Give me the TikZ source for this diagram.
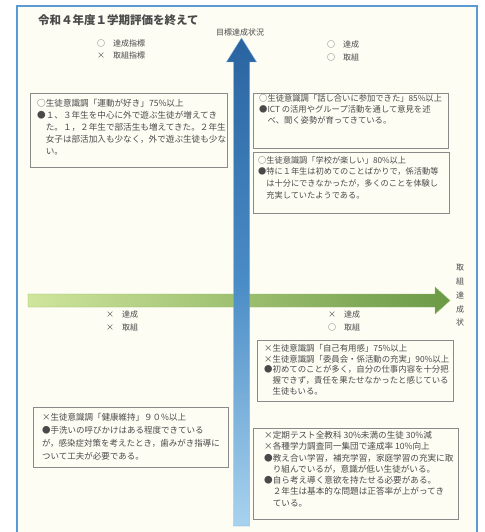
\documentclass[tikz,border=0pt]{standalone}
\usepackage{fontspec}
\setmainfont{Noto Sans CJK JP}
\definecolor{framecol}{HTML}{5B9BD5}
\definecolor{paper}{HTML}{FDFDF4}
\definecolor{ink}{HTML}{4A4A4A}
\definecolor{boxline}{HTML}{8A8A8A}
\definecolor{bluetop}{HTML}{2A64A0}
\definecolor{bluemid}{HTML}{4A8CC6}
\definecolor{bluebot}{HTML}{A8D3EE}
\definecolor{greenleft}{HTML}{CFE59C}
\definecolor{greenright}{HTML}{6B9A45}
\tikzset{
  boxrect/.style={draw=boxline, line width=0.8pt, fill=paper},
  boxtext/.style={anchor=north west, inner sep=0pt, align=left, text=ink},
  lab/.style={anchor=west, inner sep=0pt, text=ink, font=\fontsize{8}{10}\selectfont},
}
\begin{document}
\begin{tikzpicture}[x=1pt, y=-1pt]
\useasboundingbox (0,0) rectangle (484,532);
\fill[white] (0,0) rectangle (484,532);
\fill[paper] (17,6) rectangle (477,532);
\draw[framecol, line width=2pt] (17,540) -- (17,6) -- (477,6) -- (477,540);

% title
\node[anchor=west, inner sep=0pt, text=ink, font=\fontsize{11.5}{13}\selectfont\bfseries] (title) at (38,20) {令和４年度１学期評価を終えて};

% horizontal arrow (green)
\shade[left color=greenleft, right color=greenright, draw=greenright!60!greenleft, line width=0.4pt]
  (28,294) -- (435,294) -- (435,287) -- (450,300.5) -- (435,314) -- (435,307) -- (28,307) -- cycle;

% vertical arrow (blue)
\shade[top color=bluetop, bottom color=bluebot, middle color=bluemid, draw=bluemid!60!bluebot, line width=0.4pt]
  (233.5,526) -- (233.5,62) -- (226.5,62) -- (241.5,38) -- (256.5,62) -- (249.5,62) -- (249.5,526) -- cycle;

% axis labels
\node[inner sep=0pt, text=ink, font=\fontsize{8}{10}\selectfont] (yaxis) at (240,32) {目標達成状況};
\node[inner sep=0pt, text=ink, align=center, font=\fontsize{8}{13.7}\selectfont] (xaxis) at (460,295.5) {取\\組\\達\\成\\状};

% quadrant legends
\node[lab] (ql1) at (97,43) {○　達成指標};
\node[lab] (ql2) at (97,55) {×　取組指標};
\node[lab] (qr1) at (327,44) {○　達成};
\node[lab] (qr2) at (327,57) {○　取組};
\node[lab] (bl1) at (106,314) {×　達成};
\node[lab] (bl2) at (106,327) {×　取組};
\node[lab] (br1) at (328,314) {×　達成};
\node[lab] (br2) at (328,327) {○　取組};

% boxes
\draw[boxrect] (30,93) rectangle (227,167);
\node[boxtext, font=\fontsize{8.6}{12}\selectfont] (t1) at (37,99.5) {○生徒意識調「運動が好き」75\%以上\\●１、３年生を中心に外で遊ぶ生徒が増えてき\\　た。１，２年生で部活生も増えてきた。２年生\\　女子は部活加入も少なく，外で遊ぶ生徒も少な\\　い。};

\draw[boxrect] (253,93) rectangle (448,148);
\node[boxtext, font=\fontsize{8.3}{11}\selectfont] (t2) at (259,94) {○生徒意識調「話し合いに参加できた」85\%以上\\●ICT の活用やグループ活動を通して意見を述\\　べ、聞く姿勢が育ってきている。};

\draw[boxrect] (253,152) rectangle (449,213);
\node[boxtext, font=\fontsize{8.2}{11.7}\selectfont] (t3) at (258,156) {○生徒意識調「学校が楽しい」80\%以上\\●特に１年生は初めてのことばかりで，係活動等\\　は十分にできなかったが，多くのことを体験し\\　充実していたようである。};

\draw[boxrect] (257,340) rectangle (453,401);
\node[boxtext, font=\fontsize{8.4}{10.8}\selectfont] (t4) at (264,344) {×生徒意識調「自己有用感」75\%以上\\×生徒意識調「委員会・係活動の充実」90\%以上\\●初めてのことが多く，自分の仕事内容を十分把\\　握できず，責任を果たせなかったと感じている\\　生徒もいる。};

\draw[boxrect] (253,428) rectangle (458,519);
\node[boxtext, font=\fontsize{8.6}{11.3}\selectfont] (t5) at (264,431) {×定期テスト全教科 30\%未満の生徒 30\%減\\×各種学力調査同一集団で達成率 10\%向上\\●教え合い学習，補充学習，家庭学習の充実に取\\　り組んでいるが，意識が低い生徒がいる。\\●自ら考え導く意欲を持たせる必要がある。\\　２年生は基本的な問題は正答率が上がってき\\　ている。};

\draw[boxrect] (33,407) rectangle (228,467);
\node[boxtext, font=\fontsize{8.5}{13}\selectfont] (t6) at (42,413) {×生徒意識調「健康維持」９０\%以上\\●手洗いの呼びかけはある程度できている\\が，感染症対策を考えたとき，歯みがき指導に\\ついて工夫が必要である。};
\end{tikzpicture}
\end{document}
